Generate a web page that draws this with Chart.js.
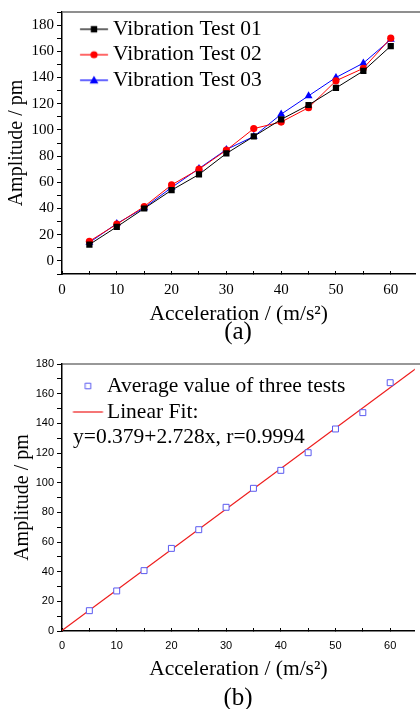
<!DOCTYPE html>
<html>
<head>
<meta charset="utf-8">
<script src="https://cdn.jsdelivr.net/npm/chart.js@4.4.1/dist/chart.umd.min.js"></script>
<style>
  html, body { margin: 0; padding: 0; background: #fff; }
  body { width: 420px; height: 709px; position: relative; overflow: hidden; }
  .panel { position: absolute; left: 0; width: 420px; }
  #panelA { top: 0; height: 345px; }
  #panelB { top: 345px; height: 364px; }
  .caption {
    position: absolute; width: 60px; text-align: center;
    font-family: 'Liberation Serif', serif; font-size: 25px; line-height: 1; color: #000;
  }
</style>
</head>
<body>
<div class="panel" id="panelA"><canvas id="chartA" width="420" height="345"></canvas></div>
<div class="panel" id="panelB"><canvas id="chartB" width="420" height="364"></canvas></div>
<div class="caption" style="left:208px; top:318px">(a)</div>
<div class="caption" style="left:208px; top:684px">(b)</div>

<script>
// acceleration steps (m/s^2)
const accel = [5, 10, 15, 20, 25, 30, 35, 40, 45, 50, 55, 60];

// amplitude (pm) of the three runs
const test01 = [12.5, 26, 40, 54, 66, 82, 95, 108, 119, 132, 145, 164];
const test02 = [15, 28, 41.5, 58, 70, 84.5, 101, 106, 117, 137.5, 147, 170];
const test03 = [14, 28.5, 40.5, 56, 70.5, 85, 95, 112, 126, 140, 151, 169];

// mean of the three runs and its linear fit
const average = [13.7, 27, 40.7, 55.7, 68.3, 83.4, 96.2, 108.3, 120.2, 136.2, 147.2, 167.4];
const fitX = [0, 65];
const fitY = [0.4, 177.7];
const fitText = 'y=0.379+2.728x, r=0.9994';

const seriesLabels = ['Vibration Test 01', 'Vibration Test 02', 'Vibration Test 03'];
const xTitle = 'Acceleration / (m/s\u00B2)';
const yTitle = 'Amplitude / pm';

const SERIF = "'Liberation Serif', 'Times New Roman', serif";
const SANS = "'Liberation Sans', Arial, sans-serif";
const LEGEND_SIZE = 21.5;

function points(xs, ys) {
    return xs.map((x, i) => ({ x: x, y: ys[i] }));
}

// small legend icon: a line segment with a marker on it
function makeIcon(opts) {
    const c = document.createElement('canvas');
    c.width = 60;
    c.height = 20;
    const ctx = c.getContext('2d');
    const cx = 30 + opts.dx;
    const cy = 10;
    if (opts.line) {
        ctx.strokeStyle = opts.line;
        ctx.lineWidth = 1.2;
        ctx.beginPath();
        ctx.moveTo(cx - opts.half, cy);
        ctx.lineTo(cx + opts.half, cy);
        ctx.stroke();
    }
    if (opts.marker) {
        const r = opts.size;
        ctx.beginPath();
        if (opts.marker === 'rect') {
            ctx.rect(cx - r, cy - r, 2 * r, 2 * r);
        } else if (opts.marker === 'circle') {
            ctx.arc(cx, cy, r, 0, Math.PI * 2);
        } else if (opts.marker === 'triangle') {
            ctx.moveTo(cx, cy - r);
            ctx.lineTo(cx + r * 0.95, cy + r * 0.7);
            ctx.lineTo(cx - r * 0.95, cy + r * 0.7);
            ctx.closePath();
        }
        ctx.fillStyle = opts.fill;
        ctx.fill();
        if (opts.stroke) {
            ctx.strokeStyle = opts.stroke;
            ctx.lineWidth = 1;
            ctx.stroke();
        }
    }
    return c;
}

// draws the top frame line of the plot box
const topFrame = {
    id: 'topFrame',
    afterDraw(chart, args, opts) {
        const a = chart.chartArea;
        const ctx = chart.ctx;
        ctx.save();
        ctx.strokeStyle = opts.color;
        ctx.lineWidth = opts.width;
        ctx.beginPath();
        ctx.moveTo(a.left, a.top);
        ctx.lineTo(chart.width, a.top);
        ctx.stroke();
        ctx.restore();
    }
};

// fit equation under the legend in (b)
const fitLabel = {
    id: 'fitLabel',
    afterDraw(chart, args, opts) {
        if (!opts.text) return;
        const a = chart.chartArea;
        const ctx = chart.ctx;
        ctx.save();
        ctx.font = LEGEND_SIZE + 'px ' + SERIF;
        ctx.fillStyle = '#000';
        ctx.textBaseline = 'middle';
        ctx.fillText(opts.text, a.left + 11, a.top + 73);
        ctx.restore();
    }
};

function xScale(tickFont, tickPad, titlePad, height) {
    return {
        type: 'linear',
        min: 0,
        max: 64.5,
        afterFit: function(scale) { scale.height = height; },
        border: { display: true, color: '#000', width: 1.5 },
        grid: { drawOnChartArea: false, drawTicks: true, tickLength: -3, tickColor: '#000', tickWidth: 1 },
        ticks: {
            stepSize: 5,
            autoSkip: false,
            includeBounds: false,
            maxRotation: 0,
            padding: tickPad,
            color: '#000',
            font: tickFont,
            callback: function(v) { return v % 10 === 0 ? v : ''; }
        },
        title: {
            display: true,
            text: xTitle,
            color: '#000',
            font: { family: SERIF, size: 21.5 },
            padding: { top: 0, bottom: titlePad }
        }
    };
}

function yScale(min, max, tickFont, titlePad) {
    return {
        type: 'linear',
        min: min,
        max: max,
        afterFit: function(scale) { scale.width = 62; },
        border: { display: true, color: '#000', width: 1.5 },
        grid: { drawOnChartArea: false, drawTicks: true, tickLength: 5, tickColor: '#000', tickWidth: 1 },
        ticks: {
            stepSize: 10,
            autoSkip: false,
            includeBounds: false,
            padding: 3,
            color: '#000',
            font: tickFont,
            callback: function(v) { return (v % 20 === 0 && v >= 0) ? v : ''; }
        },
        title: {
            display: true,
            text: yTitle,
            color: '#000',
            font: { family: SERIF, size: 20 },
            padding: { top: titlePad, bottom: 0 }
        }
    };
}

// legend sits in the plot box; the empty title is only a spacer
function legendOptions(padding, boxWidth, titleGap, icons) {
    return {
        position: 'chartArea',
        align: 'start',
        title: { display: true, text: '', padding: 0, font: { size: 1, lineHeight: titleGap + 'px' } },
        labels: {
            usePointStyle: true,
            pointStyleWidth: boxWidth,
            padding: padding,
            color: '#000',
            font: { family: SERIF, size: LEGEND_SIZE },
            generateLabels: function(chart) {
                const items = Chart.defaults.plugins.legend.labels.generateLabels(chart);
                items.forEach(function(item, i) { item.pointStyle = icons[i]; });
                return items;
            }
        }
    };
}

// (a) the three vibration runs
const colorsA = ['#000000', '#ff0000', '#0000ff'];
const stylesA = ['rect', 'circle', 'triangle'];
const radiusA = [4.4, 3.6, 4.6];
const runs = [test01, test02, test03];

const iconsA = [
    makeIcon({ dx: 9.9, half: 14, line: '#000000', marker: 'rect', size: 3.2, fill: '#000000' }),
    makeIcon({ dx: 9.9, half: 14, line: '#ff0000', marker: 'circle', size: 3.6, fill: '#ff0000' }),
    makeIcon({ dx: 9.9, half: 14, line: '#0000ff', marker: 'triangle', size: 4.6, fill: '#0000ff' })
];

new Chart(document.getElementById('chartA').getContext('2d'), {
    type: 'line',
    data: {
        datasets: runs.map(function(run, i) {
            return {
                label: seriesLabels[i],
                data: points(accel, run),
                borderColor: colorsA[i],
                backgroundColor: colorsA[i],
                borderWidth: 1,
                pointStyle: stylesA[i],
                pointRadius: radiusA[i],
                pointBorderWidth: 0,
                tension: 0
            };
        })
    },
    options: {
        responsive: false,
        animation: false,
        layout: { padding: { top: 7, left: 0, right: 0, bottom: 0 } },
        scales: {
            x: xScale({ family: SERIF, size: 15 }, 10, 18, 71),
            y: yScale(-10, 190, { family: SERIF, size: 15 }, 5)
        },
        plugins: {
            legend: legendOptions(4, 36.25, 14.5, iconsA),
            tooltip: { enabled: false },
            topFrame: { color: '#6a6a6a', width: 1.5 },
            fitLabel: { text: '' }
        }
    },
    plugins: [topFrame, fitLabel]
});

// (b) average of the runs with linear fit
const avgColor = '#5a5af0';
const fitColor = '#ee1c1c';

const iconsB = [
    makeIcon({ dx: 6.6, half: 15, line: null, marker: 'rect', size: 2.8, fill: '#ffffff', stroke: avgColor }),
    makeIcon({ dx: 6.6, half: 15, line: fitColor })
];

new Chart(document.getElementById('chartB').getContext('2d'), {
    type: 'line',
    data: {
        datasets: [{
            label: 'Average value of three tests',
            data: points(accel, average),
            showLine: false,
            borderColor: avgColor,
            backgroundColor: '#ffffff',
            pointStyle: 'rect',
            pointRadius: 4.2,
            pointBorderWidth: 1
        }, {
            label: 'Linear Fit:',
            data: points(fitX, fitY),
            borderColor: fitColor,
            backgroundColor: fitColor,
            borderWidth: 1.2,
            pointRadius: 0,
            tension: 0
        }]
    },
    options: {
        responsive: false,
        animation: false,
        layout: { padding: { top: 19, left: 0, right: 0, bottom: 0 } },
        scales: {
            x: xScale({ family: SANS, size: 11 }, 11, 27, 78),
            y: yScale(0, 180, { family: SANS, size: 11 }, 11)
        },
        plugins: {
            legend: legendOptions(4.5, 29.75, 25.75, iconsB),
            tooltip: { enabled: false },
            topFrame: { color: '#333333', width: 1.2 },
            fitLabel: { text: fitText }
        }
    },
    plugins: [topFrame, fitLabel]
});
</script>
</body>
</html>
